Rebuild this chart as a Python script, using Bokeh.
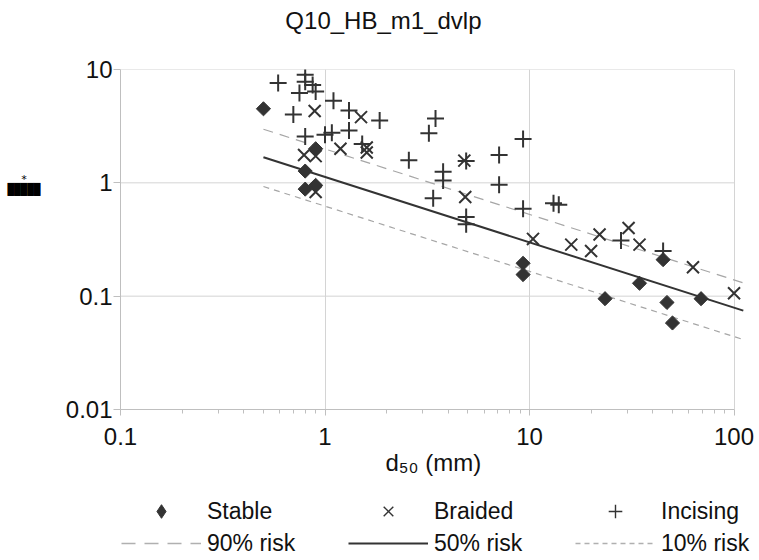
import numpy as np
from bokeh.plotting import figure
from bokeh.layouts import column
from bokeh.models import (FixedTicker, PrintfTickFormatter, Legend, LegendItem,
                          Label, LogAxis, Range1d)
from bokeh.embed import file_html
from bokeh.resources import INLINE

# ---------------- data ----------------
stable_d50 = [0.5, 0.8, 0.8, 0.9, 0.9, 9.3, 9.3, 23.4, 34.5, 45, 47, 50, 69]
stable_val = [4.5, 1.27, 0.88, 2.0, 0.95, 0.195, 0.155, 0.095, 0.13, 0.21, 0.088, 0.058, 0.095]

braided_d50 = [0.79, 0.9, 0.9, 0.89, 1.19, 1.5, 1.6, 1.6, 4.8, 4.85, 10.4, 16, 20, 22,
               30.5, 34.5, 63, 100]
braided_val = [1.76, 1.72, 0.83, 4.3, 2.0, 3.8, 2.05, 1.85, 1.57, 0.75, 0.32, 0.285, 0.25,
               0.35, 0.40, 0.285, 0.18, 0.106]

incising_d50 = [0.59, 0.8, 0.8, 0.87, 0.75, 0.9, 1.1, 0.7, 1.31, 1.85, 0.8, 1.0, 1.08, 1.31,
                1.52, 3.47, 3.22, 2.57, 3.78, 3.78, 3.38, 4.9, 4.9, 4.9, 9.3, 7.1, 7.1, 9.3,
                13.1, 13.9, 28, 45]
incising_val = [7.6, 9.0, 7.8, 7.3, 6.2, 6.4, 5.3, 4.0, 4.35, 3.55, 2.56, 2.65, 2.77, 2.9,
                2.2, 3.7, 2.74, 1.58, 1.25, 1.05, 0.73, 1.56, 0.50, 0.43, 2.44, 1.76, 0.96,
                0.59, 0.66, 0.64, 0.31, 0.25]

risk_d50 = [0.5, 111]
risk90 = [2.97, 0.131]
risk50 = [1.68, 0.0745]
risk10 = [0.928, 0.0414]

x_ticks = [0.1, 1, 10, 100]
y_ticks = [0.01, 0.1, 1, 10]
x_minor = [m * d for d in (0.1, 1, 10) for m in range(2, 10)]

title_text = "Q10_HB_m1_dvlp"
x_label = "d\u2085\u2080 (mm)\u00a0\u00a0"
y_label_box = "\u2588\u2588\u2588\u2588\u2588"
y_label_star = "*\u00a0\u00a0"

FONT = "Liberation Sans"
FS = "24px"
TXT = "#111111"
DARK = "#333333"
GRID = "#d4d4d4"
AXIS = "#bfbfbf"
DASH = "#a6a6a6"
W = 759


def bare_figure(height):
    f = figure(width=W, height=height, x_range=Range1d(0, 1), y_range=Range1d(0, 1),
               output_backend="svg", toolbar_location=None, min_border=0,
               x_axis_location=None, y_axis_location=None)
    f.outline_line_color = None
    f.xgrid.visible = False
    f.ygrid.visible = False
    return f


# ---------------- title strip ----------------
tf = bare_figure(40)
tf.add_layout(Label(x=0.258, y=0.5, text=title_text, text_font=FONT, text_font_size=FS,
                    text_align="left", text_baseline="middle", text_color=TXT))

# ---------------- main chart ----------------
p = figure(width=W, height=445,
           x_axis_type="log", y_axis_type="log",
           x_range=Range1d(0.1, 133.2), y_range=Range1d(0.01, 10),
           output_backend="svg", toolbar_location=None,
           min_border_left=120, min_border_right=0, min_border_top=29,
           min_border_bottom=76)
p.outline_line_color = None
p.background_fill_color = "white"

# grid
p.xgrid.ticker = FixedTicker(ticks=x_ticks)
p.xgrid.grid_line_color = GRID
p.ygrid.visible = False
p.segment(x0=[x_ticks[0]] * len(y_ticks), x1=[x_ticks[-1]] * len(y_ticks),
          y0=y_ticks, y1=y_ticks, line_color=GRID, line_width=1, level="underlay")

# axes
for ax in (p.xaxis[0], p.yaxis[0]):
    ax.axis_line_color = AXIS
    ax.major_tick_line_color = AXIS
    ax.minor_tick_line_color = AXIS
    ax.major_tick_in = 0
    ax.minor_tick_in = 0
    ax.major_label_text_font = FONT
    ax.major_label_text_font_size = FS
    ax.major_label_text_color = TXT
    ax.formatter = PrintfTickFormatter(format="%g")

p.xaxis.ticker = FixedTicker(ticks=x_ticks, minor_ticks=x_minor)
p.xaxis.bounds = (0.1, 100)
p.xaxis.major_tick_out = 6
p.xaxis.minor_tick_out = 4
p.xaxis.major_label_standoff = 12
p.xaxis.axis_label = x_label
p.xaxis.axis_label_text_font = FONT
p.xaxis.axis_label_text_font_size = FS
p.xaxis.axis_label_text_font_style = "normal"
p.xaxis.axis_label_text_color = TXT
p.xaxis.axis_label_standoff = 1

p.yaxis.ticker = FixedTicker(ticks=y_ticks, minor_ticks=[])
p.yaxis.major_tick_out = 7
p.yaxis.major_label_standoff = 1

# y-axis title (a black box with an asterisk), drawn as labels of a bare axis
ylab_axis = LogAxis(ticker=FixedTicker(ticks=[0.882, 1.065], minor_ticks=[]),
                    major_label_overrides={0.882: y_label_box, 1.065: y_label_star},
                    axis_line_color=None, major_tick_line_color=None,
                    minor_tick_line_color=None, major_tick_out=0, major_tick_in=0,
                    major_label_text_font="DejaVu Sans Mono",
                    major_label_text_font_size="11px",
                    major_label_text_color="black", major_label_standoff=22)
p.add_layout(ylab_axis, "left")

# risk lines
p.line(risk_d50, risk90, line_color=DASH, line_width=1.2, line_dash="10 7")
p.line(risk_d50, risk50, line_color=DARK, line_width=2)
p.line(risk_d50, risk10, line_color=DASH, line_width=1.2, line_dash="6 5")

# points
p.scatter(stable_d50, stable_val, marker="square", angle=np.pi / 4, size=10,
          fill_color=DARK, line_color=DARK)
p.scatter(braided_d50, braided_val, marker="x", size=17, line_color=DARK, line_width=2)
p.scatter(incising_d50, incising_val, marker="cross", size=17, line_color=DARK,
          line_width=2)

# ---------------- legend strip ----------------
lf = bare_figure(73)
nan1 = [np.nan]
nan2 = [np.nan, np.nan]
ls = lf.scatter(x=nan1, y=nan1, marker="diamond", fill_color=DARK, line_color=DARK)
lb = lf.scatter(x=nan1, y=nan1, marker="x", line_color=DARK, line_width=1.4)
li = lf.scatter(x=nan1, y=nan1, marker="cross", line_color=DARK, line_width=1.4)
l90 = lf.line(x=nan2, y=nan2, line_color="#b0b0b0", line_width=1.3, line_dash="14 9")
l50 = lf.line(x=nan2, y=nan2, line_color=DARK, line_width=2)
l10 = lf.line(x=nan2, y=nan2, line_color="#b0b0b0", line_width=1.3, line_dash="5 4")


def make_legend(items, loc):
    lg = Legend(items=items, orientation="horizontal", location=loc)
    lg.glyph_width = 80
    lg.glyph_height = 34
    lg.label_standoff = 6
    lg.label_width = 95
    lg.spacing = 46
    lg.padding = 0
    lg.margin = 0
    lg.border_line_color = None
    lg.background_fill_alpha = 0
    lg.label_text_font = FONT
    lg.label_text_font_size = "23px"
    lg.label_text_color = TXT
    return lg


lf.add_layout(make_legend([LegendItem(label="Stable", renderers=[ls]),
                           LegendItem(label="Braided", renderers=[lb]),
                           LegendItem(label="Incising", renderers=[li])], (1, 30)))
lf.add_layout(make_legend([LegendItem(label="90% risk", renderers=[l90]),
                           LegendItem(label="50% risk", renderers=[l50]),
                           LegendItem(label="10% risk", renderers=[l10])], (1, -2)))

layout = column(tf, p, lf, spacing=0)
open("out.html", "w").write(file_html(layout, INLINE))
